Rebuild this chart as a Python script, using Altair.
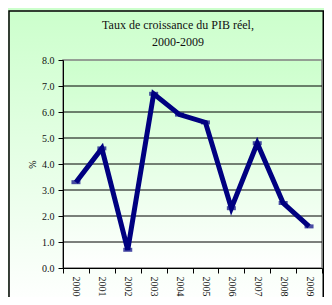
import altair as alt
import pandas as pd

years = ["2000", "2001", "2002", "2003", "2004", "2005", "2006", "2007", "2008", "2009"]
growth = [3.3, 4.6, 0.7, 6.7, 5.9, 5.6, 2.3, 4.8, 2.5, 1.6]
y_ticks = [0, 1, 2, 3, 4, 5, 6, 7, 8]
grid_values = [1, 2, 3, 4, 5, 6, 7]
title_lines = ["Taux de croissance du PIB réel,", "2000-2009"]

df = pd.DataFrame({"year": years, "growth": growth})
grid_df = pd.DataFrame({"v": grid_values})
one = pd.DataFrame({"a": [0]})

W, H = 259, 208
PL, PT, PR, PB = 55, 52, 2, 29
FONT = "Liberation Serif"

grad = alt.LinearGradient(
    gradient="linear",
    stops=[alt.GradientStop(color="#ccffcc", offset=0),
           alt.GradientStop(color="#ffffff", offset=1)],
    x1=0, x2=0, y1=0, y2=1,
)

x_scale = alt.Scale(type="band", paddingInner=0, paddingOuter=0)
x_axis = alt.Axis(
    title=None, labelAngle=90, labelFont=FONT, labelFontSize=10,
    labelColor="#111111", tickBand="extent", tickSize=5, tickColor="black",
    domainColor="black", labelPadding=3, grid=False, zindex=1,
)
y_scale = alt.Scale(domain=[0, 8], nice=False)
y_axis = alt.Axis(
    title="%", titleFont=FONT, titleFontSize=10, titleFontWeight="normal",
    titlePadding=4, values=y_ticks, format=".1f", labelFont=FONT,
    labelFontSize=10, labelColor="#111111", tickSize=5, tickColor="black",
    domainColor="black", labelPadding=4, grid=False, zindex=1,
)

x_enc = alt.X("year:N", sort=years, bandPosition=0.5, scale=x_scale, axis=x_axis)
y_enc = alt.Y("growth:Q", scale=y_scale, axis=y_axis)

frame = alt.Chart(one).mark_rect(fill=grad, stroke="black", strokeWidth=1.5).encode(
    x=alt.value(-PL + 1), x2=alt.value(W + PR - 0.75),
    y=alt.value(-PT + 3), y2=alt.value(H + PB + 10),
)
plotbg = alt.Chart(one).mark_rect(fill=grad, stroke="#808080", strokeWidth=1.5).encode(
    x=alt.value(0), x2=alt.value(W), y=alt.value(0), y2=alt.value(H),
)
title1 = alt.Chart(one).mark_text(
    text=title_lines[0], font=FONT, fontSize=12, color="#111111",
    align="center", baseline="alphabetic",
).encode(x=alt.value(115), y=alt.value(-31))
title2 = alt.Chart(one).mark_text(
    text=title_lines[1], font=FONT, fontSize=12, color="#111111",
    align="center", baseline="alphabetic",
).encode(x=alt.value(115), y=alt.value(-14))
grid = alt.Chart(grid_df).mark_rule(color="black", strokeWidth=1).encode(
    y=alt.Y("v:Q", scale=y_scale, axis=y_axis),
)
line = alt.Chart(df).mark_line(color="#000080", strokeWidth=5, strokeJoin="miter").encode(
    x=x_enc, y=y_enc,
)
marks = alt.Chart(df).mark_tick(color="#000080", thickness=4, size=9).encode(
    x=x_enc, y=y_enc,
)

chart = alt.layer(frame, plotbg, title1, title2, grid, line, marks).properties(
    width=W, height=H,
    background="#ccffcc",
    autosize=alt.AutoSizeParams(type="none"),
    padding={"left": PL, "top": PT, "right": PR, "bottom": PB},
).configure_view(stroke=None)

chart.save("out.html", embed_options={"renderer": "svg", "actions": False})
